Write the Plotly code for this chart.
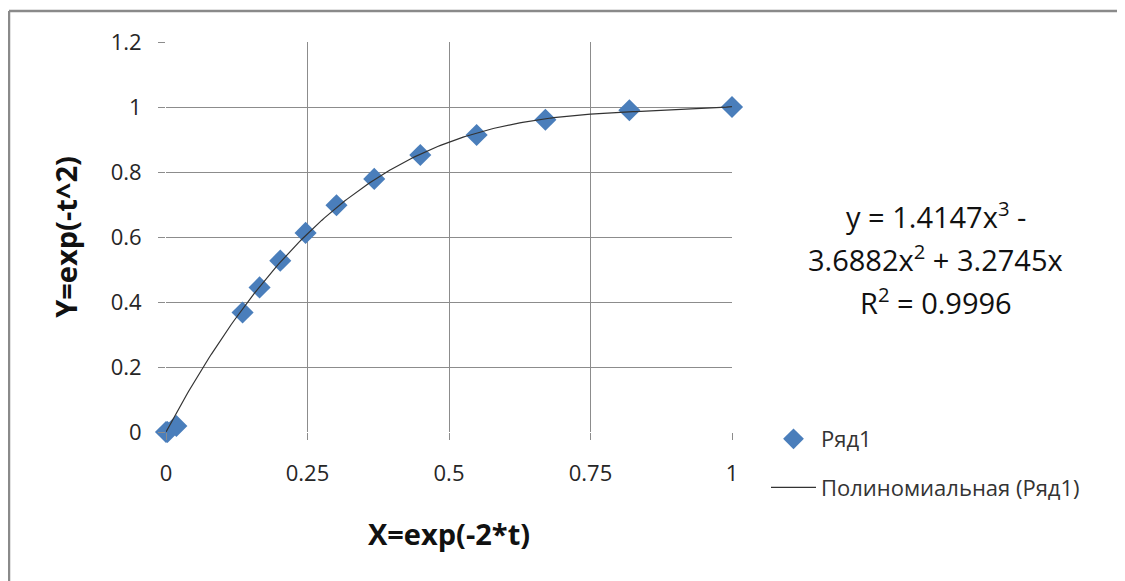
import numpy as np
import plotly.graph_objects as go

# Data
x_vals = [0.0, 0.0025, 0.0183, 0.1353, 0.1653, 0.2019, 0.2466, 0.3012, 0.3679,
          0.4493, 0.5488, 0.6703, 0.8187, 1.0]
y_vals = [0.0, 0.0001, 0.0183, 0.3679, 0.4449, 0.5273, 0.6126, 0.6977, 0.7788,
          0.8521, 0.9139, 0.9608, 0.9900, 1.0]

# Trendline coefficients shown on the chart (x^3, x^2, x, const)
trend_coefs = [1.4147, -3.6882, 3.2745, 0.0]
eq_lines = ["y = 1.4147x<sup>3</sup> -",
            "3.6882x<sup>2</sup> + 3.2745x",
            "R<sup>2</sup> = 0.9996"]

x_ticks = [0, 0.25, 0.5, 0.75, 1]
x_ticklabels = ["0", "0.25", "0.5", "0.75", "1"]
y_ticks = [0, 0.2, 0.4, 0.6, 0.8, 1.0, 1.2]
y_ticklabels = ["0", "0.2", "0.4", "0.6", "0.8", "1", "1.2"]

series_name = "Ряд1"
trend_name = "Полиномиальная (Ряд1)"

OFF = 8  # browser body margin
W, H = 1125 - OFF, 581 - OFF
# plot area edges in screen pixels
SL, SR, ST, SB = 166, 732, 42, 432
L, R, T, B = SL - OFF, SR - OFF, ST - OFF, SB - OFF
FONT = "Open Sans"
TXT = "#262626"


def px_x(p):
    return (p - OFF - L) / (R - L)


def px_y(p):
    return (B - (p - OFF)) / (B - T)


trend_x = np.linspace(0, 1, 201)
trend_y = np.polyval(trend_coefs, trend_x)

fig = go.Figure()
fig.add_trace(go.Scatter(
    x=x_vals, y=y_vals, mode="markers", name=series_name,
    marker=dict(symbol="diamond", size=17, color="#4a7ebb",
                line=dict(width=0)),
    legendgroup="a", cliponaxis=False,
))
fig.add_trace(go.Scatter(
    x=trend_x, y=trend_y, mode="lines", name=trend_name,
    line=dict(color="#333333", width=1.2),
    legendgroup="b", cliponaxis=False,
))

axis_common = dict(
    showgrid=True, gridcolor="#8c8c8c", gridwidth=1,
    zeroline=False, showline=False,
    ticks="outside", ticklen=7, tickcolor="#8c8c8c",
    tickfont=dict(family=FONT, size=22, color=TXT),
)

fig.update_xaxes(range=[0, 1], tickvals=x_ticks, ticktext=x_ticklabels,
                 ticklabelstandoff=15,
                 title=dict(text="<b>X=exp(-2*t)</b>", standoff=38,
                            font=dict(family=FONT, size=29, color="#111111")),
                 **axis_common)
fig.update_yaxes(range=[0, 1.2], tickvals=y_ticks, ticktext=y_ticklabels,
                 ticklabelstandoff=12,
                 title=dict(text="<b>Y=exp(-t^2)</b>", standoff=24,
                            font=dict(family=FONT, size=29, color="#111111")),
                 **axis_common)

# equation annotation lines
for i, line in enumerate(eq_lines):
    fig.add_annotation(x=px_x(936), y=px_y(215 + 43 * i), xref="paper", yref="paper",
                       text=line, showarrow=False, xanchor="center", yanchor="middle",
                       font=dict(family=FONT, size=29, color="#111111"))

# outer chart frame (top and left edges visible)
frame_x = px_x(9)
frame_y = px_y(11)
fig.add_shape(type="line", xref="paper", yref="paper",
              x0=frame_x, x1=frame_x, y0=px_y(600), y1=frame_y,
              line=dict(color="#8a8a8a", width=2.5))
fig.add_shape(type="line", xref="paper", yref="paper",
              x0=frame_x, x1=px_x(1140), y0=frame_y, y1=frame_y,
              line=dict(color="#8a8a8a", width=2.5))

fig.update_layout(
    width=W, height=H,
    margin=dict(l=L, r=W - R, t=T, b=H - B, pad=0),
    paper_bgcolor="white", plot_bgcolor="white",
    showlegend=True,
    legend=dict(x=px_x(766), y=px_y(418), xanchor="left", yanchor="top",
                font=dict(family=FONT, size=22, color="#333333"),
                tracegroupgap=17, itemwidth=45,
                bgcolor="rgba(0,0,0,0)", borderwidth=0),
)

fig.write_html("out.html")
